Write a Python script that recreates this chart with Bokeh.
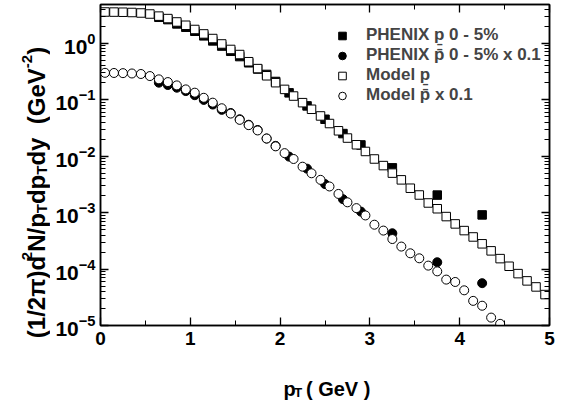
import math
from bokeh.plotting import figure
from bokeh.layouts import row, column
from bokeh.models import (Range1d, LogAxis, LinearAxis, FixedTicker, Label, Legend, LegendItem,
                          CustomJSTickFormatter)
from bokeh.embed import file_html
from bokeh.resources import INLINE

# ---------------- data ----------------
pt_model_p = [0.05, 0.15, 0.25, 0.35, 0.45, 0.55, 0.65, 0.75, 0.85, 0.95,
              1.05, 1.15, 1.25, 1.35, 1.45, 1.55, 1.65, 1.75, 1.85, 1.95,
              2.05, 2.15, 2.25, 2.35, 2.45, 2.55, 2.65, 2.75, 2.85, 2.95,
              3.05, 3.15, 3.25, 3.35, 3.45, 3.55, 3.65, 3.75, 3.85, 3.95,
              4.05, 4.15, 4.25, 4.35, 4.45, 4.55, 4.65, 4.75, 4.85, 4.95]
model_p = [3.57, 3.56, 3.54, 3.50, 3.43, 3.29, 3.02, 2.73, 2.38, 2.08,
           1.75, 1.46, 1.21, 0.97, 0.775, 0.63, 0.47, 0.355, 0.265, 0.20,
           0.152, 0.116, 0.0885, 0.0676, 0.0515, 0.0378, 0.0281, 0.0209, 0.0159, 0.0121,
           0.0089, 0.0068, 0.0050, 0.0038, 0.0027, 0.00205, 0.00148, 0.00117, 0.00085, 0.00063,
           0.00048, 0.00037, 0.00028, 0.00021, 0.000153, 0.000112, 0.000083, 0.0000617, 0.0000482, 0.0000353]

pt_model_pbar = [0.05, 0.15, 0.25, 0.35, 0.45, 0.55, 0.65, 0.75, 0.85, 0.95,
                 1.05, 1.15, 1.25, 1.35, 1.45, 1.55, 1.65, 1.75, 1.85, 1.95,
                 2.05, 2.15, 2.25, 2.35, 2.45, 2.55, 2.65, 2.75, 2.85, 2.95,
                 3.05, 3.15, 3.25, 3.35, 3.45, 3.55, 3.65, 3.75, 3.85, 3.95,
                 4.05, 4.15, 4.25, 4.35, 4.45]
model_pbar = [0.299, 0.297, 0.295, 0.291, 0.285, 0.262, 0.229, 0.205, 0.179, 0.152,
              0.133, 0.108, 0.0885, 0.0705, 0.0567, 0.0439, 0.0354, 0.0285, 0.0205, 0.0149,
              0.0113, 0.0089, 0.0065, 0.00497, 0.0038, 0.0029, 0.00214, 0.00152, 0.0012, 0.00089,
              0.00061, 0.00048, 0.00034, 0.00025, 0.00019, 0.000155, 0.000115, 0.000091, 0.000065, 0.000059,
              0.000042, 0.0000273, 0.0000224, 0.0000138, 0.0000107]

pt_phenix = [0.65, 0.75, 0.85, 0.95, 1.05, 1.15, 1.25, 1.35, 1.45, 1.55, 1.65,
             1.75, 1.85, 1.95, 2.1, 2.3, 2.5, 2.7, 2.9, 3.25, 3.75, 4.25]
phenix_p = [2.88, 2.62, 2.2, 1.92, 1.63, 1.35, 1.1, 0.89, 0.72, 0.58, 0.45,
            0.35, 0.28, 0.21, 0.132, 0.0776, 0.045, 0.0251, 0.0158, 0.0062, 0.00204, 0.00091]
phenix_pbar = [0.2, 0.182, 0.163, 0.142, 0.12, 0.099, 0.082, 0.066, 0.058, 0.045, 0.036,
               0.029, 0.0205, 0.0152, 0.0098, 0.006, 0.0032, 0.00173, 0.00104, 0.00043, 0.000132, 0.0000562]

x_ticks = [0, 1, 2, 3, 4, 5]
x_minor = [0.5, 1.5, 2.5, 3.5, 4.5]
y_ticks = [1e-5, 1e-4, 1e-3, 1e-2, 1e-1, 1e0]

legend_labels = ["PHENIX p\u0331 0 - 5%", "PHENIX p\u0304 0 - 5% x 0.1",
                 "Model p\u0331", "Model p\u0304 x 0.1"]

FONT = "Liberation Sans"

# ---------------- layout sizes (px) ----------------
YW, TOTAL_H = 50, 400
MAIN_W, MAIN_H = 565 - YW, 360
XH = TOTAL_H - MAIN_H

# ---------------- main figure ----------------
p = figure(width=MAIN_W, height=MAIN_H, x_range=Range1d(0, 5), y_range=Range1d(1e-5, 4.85),
           y_axis_type="log", output_backend="svg", toolbar_location=None,
           min_border_left=50, min_border_right=16, min_border_top=4, min_border_bottom=35)
p.xgrid.visible = False
p.ygrid.visible = False
p.outline_line_color = "black"
p.outline_line_width = 1.5
p.background_fill_color = "white"
p.border_fill_color = "white"

bottom_ax = p.below[0]
left_ax = p.left[0]
blank = CustomJSTickFormatter(code="return ''")
top_ax = LinearAxis(formatter=blank)
right_ax = LogAxis(formatter=blank)
p.add_layout(top_ax, "above")
p.add_layout(right_ax, "right")

y_minor = [m * 10.0 ** e for e in range(-5, 1) for m in range(2, 10)]
for ax in (bottom_ax, top_ax):
    ax.ticker = FixedTicker(ticks=x_ticks, minor_ticks=x_minor)
for ax in (left_ax, right_ax):
    ax.ticker = FixedTicker(ticks=y_ticks, minor_ticks=y_minor)

for ax in (bottom_ax, top_ax, left_ax, right_ax):
    ax.axis_line_width = 1.5
    ax.major_tick_in = 8
    ax.major_tick_out = 0
    ax.minor_tick_in = 5
    ax.minor_tick_out = 0
    ax.major_tick_line_width = 1.3
    ax.minor_tick_line_width = 1
    ax.major_label_text_font = FONT
    ax.major_label_text_font_style = "bold"
    ax.major_label_text_color = "black"

bottom_ax.major_label_text_font_size = "19px"
bottom_ax.major_label_standoff = 6
left_ax.major_label_text_font_size = "21px"
left_ax.major_label_standoff = 5
for ax in (top_ax, right_ax):
    ax.major_label_text_font_size = "1px"
    ax.major_label_standoff = 0

# ---------------- glyphs ----------------
r1 = p.scatter(pt_phenix, phenix_p, marker="square", size=8.5,
               fill_color="black", line_color="black")
r2 = p.scatter(pt_phenix, phenix_pbar, marker="circle", size=9,
               fill_color="black", line_color="black")
r3 = p.scatter(pt_model_p, model_p, marker="square", size=8.5,
               fill_color="white", line_color="black", line_width=1)
r4 = p.scatter(pt_model_pbar, model_pbar, marker="circle", size=9,
               fill_color="white", line_color="black", line_width=1)

legend = Legend(items=[LegendItem(label=legend_labels[0], renderers=[r1]),
                       LegendItem(label=legend_labels[1], renderers=[r2]),
                       LegendItem(label=legend_labels[2], renderers=[r3]),
                       LegendItem(label=legend_labels[3], renderers=[r4])],
                location=(232, 220), glyph_width=20, glyph_height=19, spacing=0,
                label_standoff=14, padding=0, margin=0, label_height=19,
                border_line_alpha=0, background_fill_alpha=0,
                label_text_font=FONT, label_text_font_style="bold",
                label_text_font_size="17px")
p.add_layout(legend)

# ---------------- axis titles (side figures) ----------------
W = {"(": 333, ")": 333, "1": 556, "2": 556, "/": 278, "\u03c0": 580, "d": 611, "N": 722,
     "p": 611, "y": 556, " ": 278, "G": 778, "e": 556, "V": 667, "T": 611, "-": 333}


def tw(s, size):
    return sum(W[c] for c in s) * size / 1000.0


def blank_fig(w, h):
    f = figure(width=w, height=h, x_range=Range1d(0, w), y_range=Range1d(0, h),
               x_axis_type=None, y_axis_type=None, output_backend="svg",
               toolbar_location=None, min_border=0)
    f.outline_line_color = None
    f.xgrid.visible = False
    f.ygrid.visible = False
    f.background_fill_color = "white"
    f.border_fill_color = "white"
    return f


def piece_size(kind, F, S):
    return S if kind in ("sup", "sub") else F


def add_pieces(fig, pieces, start, base, rotated, F, S):
    pos = start
    for txt, kind in pieces:
        size = piece_size(kind, F, S)
        if kind != "gap":
            shift = 0.0
            if kind == "sup":
                shift = 0.40 * F
            elif kind == "sub":
                shift = -0.22 * F
            if rotated:
                lab = Label(x=base - shift, y=pos, text=txt,
                            angle=math.pi / 2, text_align="left", text_baseline="alphabetic",
                            text_font=FONT, text_font_style="bold", text_font_size=f"{size}px",
                            text_color="black")
            else:
                lab = Label(x=pos, y=base + shift, text=txt,
                            text_align="left", text_baseline="alphabetic",
                            text_font=FONT, text_font_style="bold", text_font_size=f"{size}px",
                            text_color="black")
            fig.add_layout(lab)
        pos += tw(txt, size)


yfig = blank_fig(YW, TOTAL_H)
ylab = [("(1/2\u03c0)d", "n"), ("2", "sup"), ("N/p", "n"), ("T", "sub"), ("dp", "n"),
        ("T", "sub"), ("dy", "n"), ("  ", "gap"), ("(GeV", "n"), ("-2", "sup"), (")", "n")]
F, S = 24, 15
total = sum(tw(t, piece_size(k, F, S)) for t, k in ylab)
add_pieces(yfig, ylab, 208 - total / 2, 36, True, F, S)

xfig = blank_fig(MAIN_W, XH)
xlab = [("p", "n"), ("T", "sub"), (" ", "gap"), ("( GeV )", "n")]
F2, S2 = 20, 13
total2 = sum(tw(t, piece_size(k, F2, S2)) for t, k in xlab)
add_pieces(xfig, xlab, 255 - total2 / 2, 12, False, F2, S2)

page = row(yfig, column(p, xfig, spacing=0), spacing=0)
open("out.html", "w").write(file_html(page, INLINE))
